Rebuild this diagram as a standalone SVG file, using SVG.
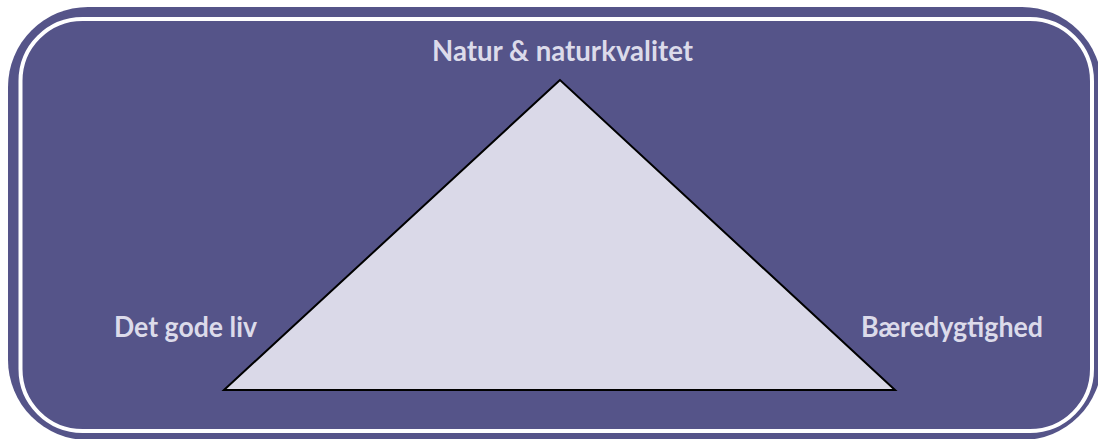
<svg xmlns="http://www.w3.org/2000/svg" width="1098" height="439" viewBox="0 0 1098 439">
  <style>
    .label { font-family: "Lato", "Open Sans", "Liberation Sans", sans-serif; font-weight: 700; font-size: 28px; fill: #DCDBEA; }
  </style>
  <rect width="1098" height="439" fill="#FFFFFF"/>
  <g id="frame">
    <rect x="8" y="7" width="1094" height="433" rx="80" ry="80" fill="#555489"/>
    <rect x="20.5" y="19" width="1071.5" height="412" rx="62" ry="62" fill="#555489" stroke="#FFFFFF" stroke-width="4"/>
  </g>
  <g id="triangle">
    <polygon points="560,80 224,390 895,390" fill="#DAD9E8" stroke="#000000" stroke-width="2" stroke-linejoin="miter"/>
  </g>
  <g id="node-top">
    <text class="label" x="432" y="61" textLength="261" lengthAdjust="spacingAndGlyphs">Natur &amp; naturkvalitet</text>
  </g>
  <g id="node-left">
    <text class="label" x="114" y="337" textLength="143" lengthAdjust="spacingAndGlyphs">Det gode liv</text>
  </g>
  <g id="node-right">
    <text class="label" x="861" y="337" textLength="182" lengthAdjust="spacingAndGlyphs">Bæredygtighed</text>
  </g>
  <g id="connectors"></g>
</svg>
